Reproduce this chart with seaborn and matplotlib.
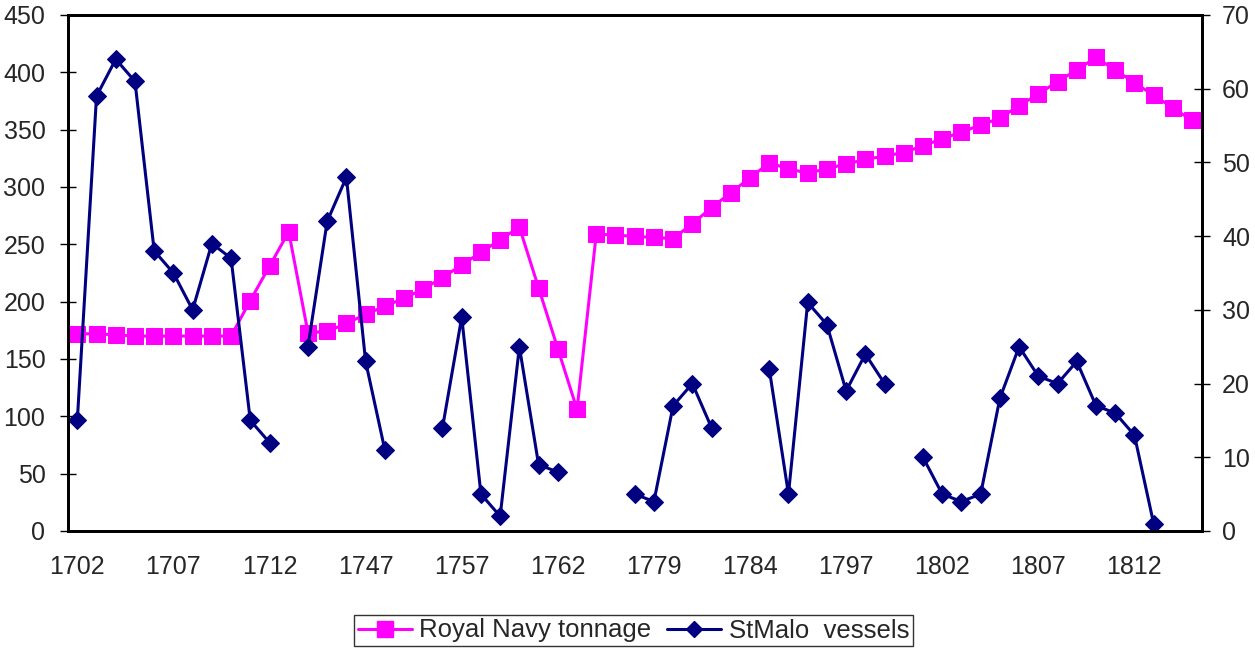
import numpy as np
import pandas as pd
import matplotlib
matplotlib.use("Agg")
import matplotlib.pyplot as plt
from matplotlib.lines import Line2D
import seaborn as sns

tick_labels = ["1702", "1707", "1712", "1747", "1757", "1762",
               "1779", "1784", "1797", "1802", "1807", "1812"]

navy_tonnage = [172, 172, 171, 170, 170, 170, 170, 170, 170,
                201, 231, 261, 173, 174, 181, 189, 196, 203, 211, 221,
                232, 243, 254, 265, 212, 159, 106, 259, 258, 257,
                256, 255, 268, 282, 295, 308, 321, 316, 312, 316,
                320, 324, 327, 330, 336, 342, 348, 354, 360, 371,
                381, 392, 402, 413, 402, 391, 380, 369, 358]

stmalo_vessels = [15, 59, 64, 61, 38, 35, 30, 39, 37, 15, 12, np.nan,
                  25, 42, 48, 23, 11, np.nan, np.nan,
                  14, 29, 5, 2, 25, 9, 8, np.nan, np.nan, np.nan,
                  5, 4, 17, 20, 14, np.nan, np.nan,
                  22, 5, 31, 28, 19, 24, 20, np.nan,
                  10, 5, 4, 5, 18, 25, 21, 20, 23, 17, 16, 13, 1, np.nan, np.nan]

n = len(navy_tonnage)
idx = np.arange(n)

df_rn = pd.DataFrame({"i": idx, "v": navy_tonnage})
sv = np.array(stmalo_vessels, dtype=float)
seg = np.cumsum(np.isnan(sv))
df_sm = pd.DataFrame({"i": idx, "v": sv, "seg": seg}).dropna()

sns.set_style("white")
plt.rcParams['font.family'] = ['Liberation Sans', 'DejaVu Sans']

W, H = 1255, 650
fig = plt.figure(figsize=(W / 100, H / 100), dpi=100)
L, R, T, B = 67.7, 1201.7, 15, 531
ax = fig.add_axes([L / W, 1 - B / H, (R - L) / W, (B - T) / H])
ax2 = ax.twinx()

pink = "#FF00FF"
navy = "#000080"

sns.lineplot(data=df_rn, x="i", y="v", ax=ax, color=pink, lw=2.2,
             marker="s", markersize=11, markeredgecolor=pink, estimator=None)
sns.lineplot(data=df_sm, x="i", y="v", units="seg", estimator=None, ax=ax2,
             color=navy, lw=2.2, marker="D", markersize=9,
             markeredgecolor=navy)

ax.set_xlim(-0.5, n - 0.5)
ax.set_ylim(0, 450)
ax2.set_ylim(0, 70)
ax.set_yticks(np.arange(0, 451, 50))
ax2.set_yticks(np.arange(0, 71, 10))

label_pos = np.arange(0, 5 * len(tick_labels), 5)
ax.set_xticks(label_pos)
ax.set_xticklabels(tick_labels)
ax.set_xticks(np.arange(-0.5, n, 1), minor=True)
ax.tick_params(axis="x", which="major", length=0, pad=17.5, labelsize=18)
ax.tick_params(axis="x", which="minor", length=12, direction="inout",
               width=1.0, color="black")
ax.tick_params(axis="y", which="major", length=12, direction="inout",
               width=1.0, color="black", labelsize=18, pad=10, left=True)
ax2.tick_params(axis="y", which="major", length=12, direction="inout",
                width=1.0, color="black", labelsize=18, pad=8.6, right=True)

for a in (ax, ax2):
    a.set_xlabel("")
    a.set_ylabel("")
    for s in a.spines.values():
        s.set_color("black")
        s.set_linewidth(2)
        s.set_visible(True)
    if a.get_legend() is not None:
        a.get_legend().remove()

handles = [Line2D([0], [0], color=pink, lw=2.2, marker="s", markersize=11,
                  markeredgecolor=pink),
           Line2D([0], [0], color=navy, lw=2.2, marker="D", markersize=8,
                  markeredgecolor=navy)]
leg = fig.legend(handles, ["Royal Navy tonnage", "StMalo  vessels"],
                 loc="center", bbox_to_anchor=(633.5 / W, 1 - 630.5 / H),
                 ncol=2, fontsize=18.5, frameon=True, fancybox=False,
                 edgecolor="black", handlelength=2.1, columnspacing=0.6,
                 handletextpad=0.3, borderpad=0.15, borderaxespad=0)
leg.get_frame().set_linewidth(1.0)

fig.savefig("out.png", dpi=100)
